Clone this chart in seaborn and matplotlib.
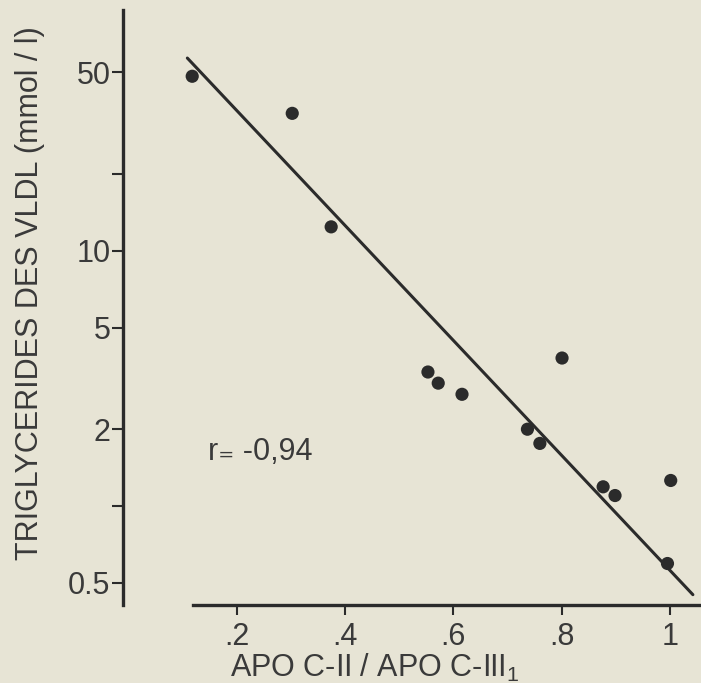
import numpy as np
import pandas as pd
import matplotlib
matplotlib.use("Agg")
import matplotlib.pyplot as plt
import seaborn as sns

# rapport apo C-II / apo C-III1 et triglycerides des VLDL
apo_ratio = [0.117, 0.302, 0.374, 0.553, 0.572, 0.616, 0.801, 0.737, 0.760, 0.877, 0.899, 1.002, 0.996]
tg_vldl = [48.2, 34.5, 12.4, 3.35, 3.03, 2.74, 3.80, 2.00, 1.76, 1.19, 1.10, 1.26, 0.596]

# droite de regression (extremites)
fit_x = [0.108, 1.043]
fit_y = [56.8, 0.45]

y_ticks = [0.5, 1, 2, 5, 10, 20, 50]
y_tick_labels = ["0.5", "", "2", "5", "10", "", "50"]
x_ticks = [0.2, 0.4, 0.6, 0.8, 1.0]
x_tick_labels = [".2", ".4", ".6", ".8", "1"]
r_text = "r\u208c -0,94"

bg = "#e7e4d5"
ink = "#2b2b2b"
txt = "#3a3a3a"
fs = 22

sns.set_theme(style="ticks")
plt.rcParams["font.family"] = ["Liberation Sans", "DejaVu Sans"]
plt.rcParams["mathtext.fontset"] = "custom"
plt.rcParams["mathtext.rm"] = "Liberation Sans"

df = pd.DataFrame({"x": apo_ratio, "y": tg_vldl})
fit = pd.DataFrame({"x": fit_x, "y": fit_y})

fig = plt.figure(figsize=(7.01, 6.83), dpi=100, facecolor=bg)
ax = fig.add_axes([123 / 701, 78 / 683, 578 / 701, 595 / 683])
ax.set_facecolor(bg)

sns.lineplot(data=fit, x="x", y="y", ax=ax, color=ink, linewidth=2.2)
sns.scatterplot(data=df, x="x", y="y", ax=ax, color=ink, s=90, edgecolor="none", zorder=3)

ax.set_yscale("log")
ax.set_xlim(-0.011, 1.058)
ax.set_ylim(0.41, 87.6)
ax.set_yticks(y_ticks)
ax.set_yticklabels(y_tick_labels)
ax.yaxis.set_minor_locator(matplotlib.ticker.NullLocator())
ax.set_xticks(x_ticks)
ax.set_xticklabels(x_tick_labels)

for side in ["top", "right"]:
    ax.spines[side].set_visible(False)
for side in ["left", "bottom"]:
    ax.spines[side].set_linewidth(2.4)
    ax.spines[side].set_color(ink)
ax.spines["bottom"].set_bounds(0.118, 1.058)

ax.tick_params(axis="y", length=8, width=1.5, color=ink, labelcolor=txt,
               labelsize=fs, pad=1)
ax.tick_params(axis="x", length=7, width=1.5, color=ink, labelcolor=txt,
               labelsize=fs, pad=5)

ax.set_xlabel("APO C-II / APO C-III$_1$", fontsize=fs, color=txt)
ax.set_ylabel("TRIGLYCERIDES DES VLDL (mmol / l)", fontsize=fs, color=txt)
ax.xaxis.set_label_coords(0.436, -0.078)
ax.yaxis.set_label_coords(-0.135, 0.524)

ax.text(0.146, 1.63, r_text, fontsize=fs, color=txt, va="center", ha="left")

fig.savefig("out.png", dpi=100, facecolor=bg)
